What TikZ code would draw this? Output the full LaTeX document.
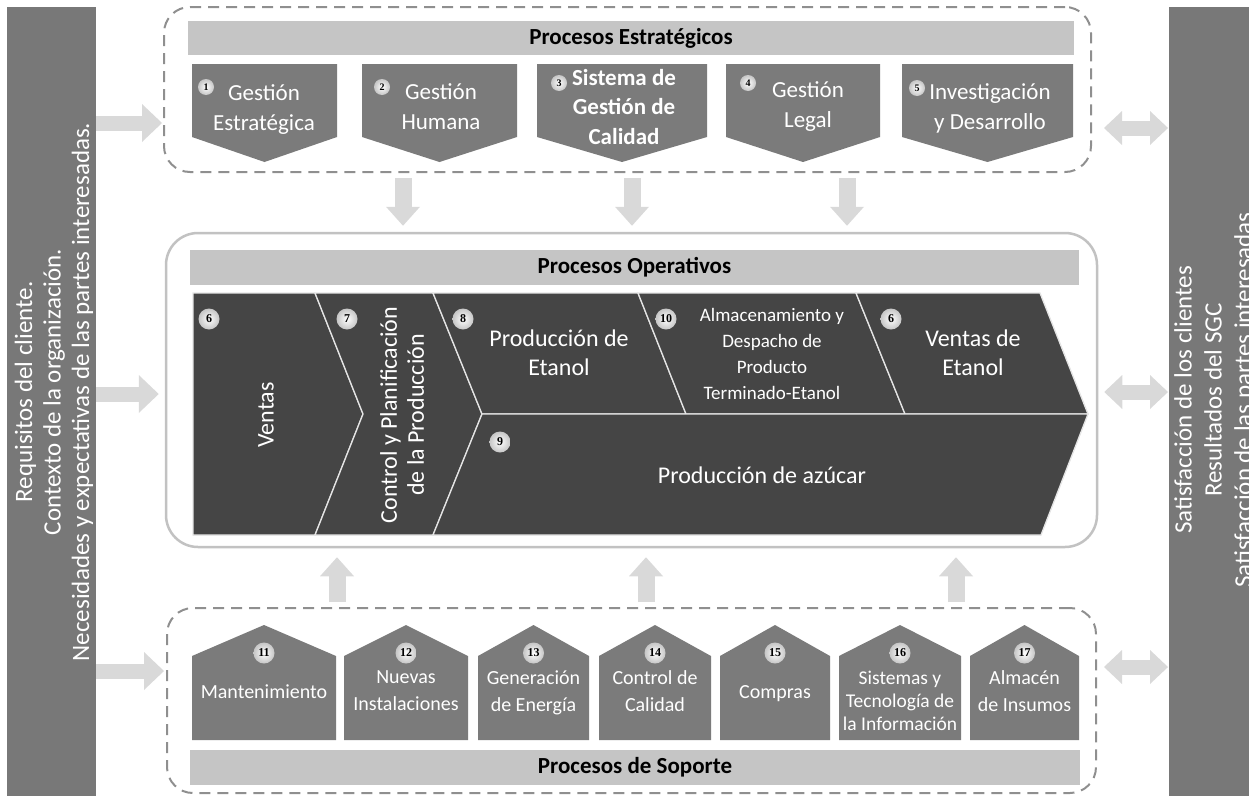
\documentclass[tikz,border=0pt]{standalone}
\usepackage{fontspec}
\setmainfont{Carlito}
\newfontfamily\numfont{Liberation Serif}
\usetikzlibrary{arrows.meta}

\definecolor{sidegray}{HTML}{787878}
\definecolor{boxgray}{HTML}{7B7B7B}
\definecolor{opdark}{HTML}{454545}
\definecolor{headgray}{HTML}{C5C5C5}
\definecolor{arrowgray}{HTML}{D9D9D9}
\definecolor{dashgray}{HTML}{8F8F8F}
\definecolor{framegray}{HTML}{C2C2C2}

\newcommand\fs[2]{\fontsize{#1}{#2}\selectfont}
% process tab pointing down (strategic) and house shape (support)
\newcommand\downtab[2]{\fill[boxgray] (#1,64) -- (#2,64) -- (#2,137) -- ({(#1+#2)/2},162) -- (#1,137) -- cycle;}
\newcommand\uptab[2]{\fill[boxgray] (#1,740) -- (#1,656) -- ({(#1+#2)/2},625) -- (#2,656) -- (#2,740) -- cycle;}

\tikzset{
  sidebar/.style={fill=sidegray, inner sep=0pt, anchor=north west},
  sidetext/.style={text=white, rotate=90, align=center, inner sep=0pt},
  dashbox/.style={draw=dashgray, line width=2pt, dash pattern=on 11pt off 7pt, rounded corners=26pt, inner sep=0pt},
  opbox/.style={draw=framegray, line width=2.5pt, rounded corners=32pt, inner sep=0pt},
  header/.style={fill=headgray, inner sep=0pt, text=black, font=\bfseries\fs{23}{23}},
  ptext/.style={text=white, align=center, inner sep=0pt},
  numS/.style={circle, inner sep=0pt, minimum size=16pt, inner color=white, outer color=gray!45, text=black, font=\numfont\bfseries\fs{10}{10}},
  numL/.style={circle, inner sep=0pt, minimum size=21pt, inner color=white, outer color=gray!45, text=black, font=\numfont\bfseries\fs{12}{12}},
  opseg/.style={fill=opdark, draw=white!90!black, line width=1.3pt},
  flowarrow/.style={draw=arrowgray, line width=15pt, -{Triangle[length=20pt,width=38pt,line width=0pt]}},
  vflow/.style={draw=arrowgray, line width=17pt, -{Triangle[length=19pt,width=34pt,line width=0pt]}},
  bothway/.style={draw=arrowgray, line width=15pt, {Triangle[length=18pt,width=34pt,line width=0pt]}-{Triangle[length=18pt,width=34pt,line width=0pt]}},
}

\begin{document}
\begin{tikzpicture}[x=1pt,y=-1pt]
\useasboundingbox (0,0) rectangle (1249,795);

% ---- side columns: inputs and outputs
\node[sidebar, minimum width=89pt, minimum height=800pt] (lbar) at (7,7) {};
\node[sidebar, minimum width=100pt, minimum height=800pt] (rbar) at (1169,7) {};
\node[sidetext, font=\fs{25}{28.5}] (ltext) at (54,392)
  {Requisitos del cliente.\\Contexto de la organización.\\Necesidades y expectativas de las partes interesadas.};
\node[sidetext, font=\fs{25}{30}] (rtext) at (1215,400)
  {Satisfacción de los clientes\\Resultados del SGC\\Satisfacción de las partes interesadas};

% ---- group frames
\node[dashbox, minimum width=927pt, minimum height=165pt] (strat) at (627.5,89.5) {};
\node[opbox, minimum width=931pt, minimum height=314pt] (op) at (631.5,390) {};
\node[dashbox, minimum width=929pt, minimum height=185pt] (sup) at (631.5,700.5) {};

% ---- headers
\node[header, minimum width=886pt, minimum height=34pt] (hs) at (631,38) {Procesos Estratégicos};
\node[header, minimum width=889pt, minimum height=35pt] (ho) at (634.5,267.5) {Procesos Operativos};
\node[header, minimum width=890pt, minimum height=35pt] (hp) at (635,767.5) {Procesos de Soporte};

% ---- strategic processes
\downtab{192}{337}
\downtab{362}{517}
\downtab{537}{707}
\downtab{726}{880}
\downtab{902}{1073}
\node[ptext, font=\fs{23}{30}] (t1) at (264,110) {Gestión\\Estratégica};
\node[ptext, font=\fs{23}{30}] (t2) at (441,107) {Gestión\\Humana};
\node[ptext, font=\bfseries\fs{23}{29.5}] (t3) at (624,107) {Sistema de\\Gestión de\\Calidad};
\node[ptext, font=\fs{23}{30}] (t4) at (808,107) {Gestión\\Legal};
\node[ptext, font=\fs{23}{30}] (t5) at (990,108) {Investigación\\y Desarrollo};
\node[numS] (n1) at (206,87) {1};
\node[numS] (n2) at (382,87) {2};
\node[numS] (n3) at (559,83) {3};
\node[numS] (n4) at (748,83) {4};
\node[numS] (n5) at (917,88) {5};

% ---- operative value chain
\path[opseg] (193,293) -- (315,293) -- (363,414) -- (315,535) -- (193,535) -- cycle;
\path[opseg] (315,293) -- (433,293) -- (482,414) -- (433,535) -- (315,535) -- (363,414) -- cycle;
\path[opseg] (433,293) -- (638,293) -- (686,414) -- (482,414) -- cycle;
\path[opseg] (638,293) -- (856,293) -- (905,414) -- (686,414) -- cycle;
\path[opseg] (856,293) -- (1040,293) -- (1088,414) -- (905,414) -- cycle;
\path[opseg] (482,414) -- (1088,414) -- (1041,535) -- (433,535) -- cycle;

\node[ptext, rotate=90, font=\fs{24}{24}] (tv) at (266,415) {Ventas};
\node[ptext, rotate=90, font=\fs{24}{27}] (tc) at (402,415) {Control y Planificación\\de la Producción};
\node[ptext, font=\fs{24}{29}] (tpe) at (559,353) {Producción de\\Etanol};
\node[ptext, font=\fs{19}{26}] (tal) at (772,354) {Almacenamiento y\\Despacho de\\Producto\\Terminado-Etanol};
\node[ptext, font=\fs{24}{29}] (tve) at (973,353) {Ventas de\\Etanol};
\node[ptext, font=\fs{24}{24}] (taz) at (762,475) {Producción de azúcar};
\node[numL] (n6) at (209,319) {6};
\node[numL] (n7) at (347,319) {7};
\node[numL] (n8) at (463,319) {8};
\node[numL] (n9) at (500,442) {9};
\node[numL] (n10) at (666,319) {10};
\node[numL] (n6b) at (891,319) {6};

% ---- support processes
\uptab{192}{336}
\uptab{344}{468}
\uptab{478}{589}
\uptab{599}{711}
\uptab{720}{830}
\uptab{839}{961}
\uptab{970}{1079}
\node[ptext, font=\fs{20}{27}] (s11) at (264,692) {Mantenimiento};
\node[ptext, font=\fs{20}{27}] (s12) at (406,691) {Nuevas\\Instalaciones};
\node[ptext, font=\fs{20}{27}] (s13) at (533.5,693) {Generación\\de Energía};
\node[ptext, font=\fs{20}{27}] (s14) at (655,691) {Control de\\Calidad};
\node[ptext, font=\fs{20}{27}] (s15) at (775,694) {Compras};
\node[ptext, font=\fs{19.5}{23}] (s16) at (900,701) {Sistemas y\\Tecnología de\\la Información};
\node[ptext, font=\fs{20}{27}] (s17) at (1024.5,691) {Almacén\\de Insumos};
\node[numL] (n11) at (264,653) {11};
\node[numL] (n12) at (406,653) {12};
\node[numL] (n13) at (533.5,653) {13};
\node[numL] (n14) at (655,653) {14};
\node[numL] (n15) at (775,653) {15};
\node[numL] (n16) at (900,653) {16};
\node[numL] (n17) at (1024.5,653) {17};

% ---- flow arrows
\coordinate (la1) at (0,123);
\coordinate (la2) at (0,394);
\coordinate (la3) at (0,671);
\coordinate (ra1) at (0,128);
\coordinate (ra2) at (0,392);
\coordinate (ra3) at (0,667);
\coordinate (da1) at (403,0);
\coordinate (da2) at (632,0);
\coordinate (da3) at (847,0);
\coordinate (ua1) at (337,0);
\coordinate (ua2) at (646,0);
\coordinate (ua3) at (956,0);

\draw[flowarrow, shorten >=1pt] (lbar.east |- la1) -- (strat.west |- la1);
\draw[flowarrow, shorten >=6pt] (lbar.east |- la2) -- (op.west |- la2);
\draw[flowarrow, shorten >=2pt] (lbar.east |- la3) -- (sup.west |- la3);

\draw[bothway, shorten <=12pt, shorten >=1pt] (strat.east |- ra1) -- (rbar.west |- ra1);
\draw[bothway, shorten <=6pt, shorten >=1pt] (op.east |- ra2) -- (rbar.west |- ra2);
\draw[bothway, shorten <=7pt, shorten >=1pt] (sup.east |- ra3) -- (rbar.west |- ra3);

\draw[vflow, shorten <=5pt, shorten >=6pt] (strat.south -| da1) -- (op.north -| da1);
\draw[vflow, shorten <=5pt, shorten >=6pt] (strat.south -| da2) -- (op.north -| da2);
\draw[vflow, shorten <=5pt, shorten >=6pt] (strat.south -| da3) -- (op.north -| da3);

\draw[vflow, shorten <=5pt, shorten >=9pt] (sup.north -| ua1) -- (op.south -| ua1);
\draw[vflow, shorten <=5pt, shorten >=9pt] (sup.north -| ua2) -- (op.south -| ua2);
\draw[vflow, shorten <=5pt, shorten >=9pt] (sup.north -| ua3) -- (op.south -| ua3);
\end{tikzpicture}
\end{document}
